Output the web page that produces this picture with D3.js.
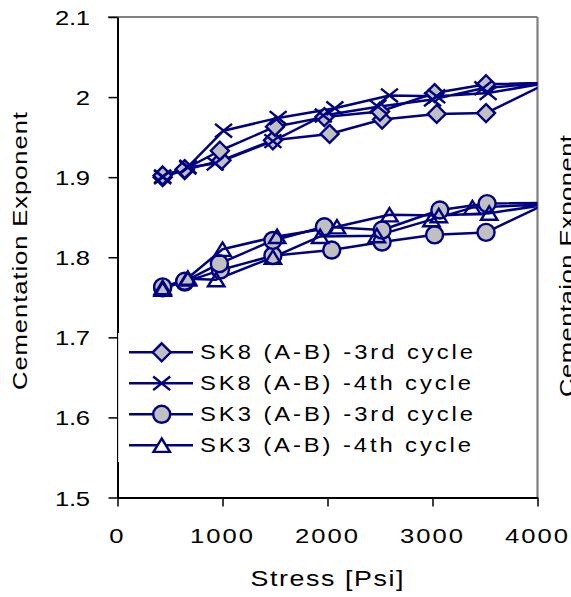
<!DOCTYPE html>
<html>
<head>
<meta charset="utf-8">
<script src="https://cdn.jsdelivr.net/npm/d3@7"></script>
<style>
  html, body { margin: 0; padding: 0; background: #fff; }
  svg { display: block; font-family: "Liberation Sans", Arial, sans-serif; }
</style>
</head>
<body>
<svg id="chart" width="571" height="597"></svg>
<script>
// ---------------- data ----------------
const seriesNames = ["SK8 (A-B) -3rd cycle", "SK8 (A-B) -4th cycle", "SK3 (A-B) -3rd cycle", "SK3 (A-B) -4th cycle"];
const seriesMarkers = ["diamond", "cross", "circle", "triangle"];

const sk8c3Stress = [430, 640, 990, 1480, 2020, 2520, 3040, 3510, 4100, 3510, 3020, 2500, 1970, 1500, 975, 640, 430];
const sk8c3M      = [1.900, 1.909, 1.921, 1.946, 1.954, 1.972, 1.979, 1.980, 2.018, 2.016, 2.005, 1.982, 1.975, 1.963, 1.933, 1.910, 1.902];

const sk8c4Stress = [430, 670, 930, 1480, 1960, 2480, 3000, 3480, 4100, 3530, 3040, 2590, 2070, 1530, 1010, 670, 430];
const sk8c4M      = [1.900, 1.912, 1.917, 1.945, 1.977, 1.988, 1.997, 2.011, 2.018, 2.005, 2.001, 2.002, 1.986, 1.974, 1.958, 1.913, 1.901];

const sk3c3Stress = [430, 640, 980, 1480, 2040, 2520, 3020, 3510, 4100, 3520, 3070, 2520, 1970, 1480, 970, 640, 430];
const sk3c3M      = [1.762, 1.769, 1.784, 1.802, 1.809, 1.819, 1.828, 1.831, 1.868, 1.867, 1.859, 1.834, 1.838, 1.821, 1.792, 1.770, 1.763];

const sk3c4Stress = [430, 670, 940, 1480, 1930, 2470, 2990, 3380, 4100, 3540, 3060, 2590, 2090, 1520, 1000, 670, 430];
const sk3c4M      = [1.760, 1.773, 1.772, 1.800, 1.826, 1.827, 1.847, 1.862, 1.866, 1.855, 1.852, 1.853, 1.838, 1.826, 1.810, 1.774, 1.762];

const xTicks = [0, 1000, 2000, 3000, 4000];
const xTickLabels = ["0", "1000", "2000", "3000", "4000"];
const yTicks = [1.5, 1.6, 1.7, 1.8, 1.9, 2.0, 2.1];
const yTickLabels = ["1.5", "1.6", "1.7", "1.8", "1.9", "2", "2.1"];

const xTitle = "Stress [Psi]";
const yTitle = "Cementation Exponent";
const y2Title = "Cementaion Exponent";

// ---------------- build ----------------
const series = [
  { name: seriesNames[0], marker: seriesMarkers[0], xs: sk8c3Stress, ys: sk8c3M },
  { name: seriesNames[1], marker: seriesMarkers[1], xs: sk8c4Stress, ys: sk8c4M },
  { name: seriesNames[2], marker: seriesMarkers[2], xs: sk3c3Stress, ys: sk3c3M },
  { name: seriesNames[3], marker: seriesMarkers[3], xs: sk3c4Stress, ys: sk3c4M }
];

const NAVY = "#000080";
const GREY = "#c0c0c0";
const SX = 1.22; // horizontal glyph stretch seen in the reference

const svg = d3.select("#chart");
svg.append("rect").attr("width", 571).attr("height", 597).attr("fill", "#fff");

const L = 117.5, R = 537.5, T = 17, B = 497.5;
const x = d3.scaleLinear().domain([0, 4000]).range([L, R]);
const y = d3.scaleLinear().domain([1.5, 2.1]).range([B, T]);

// place a text at (tx,ty) with rotation and horizontal stretch, fitted to a target length
function styleText(sel, tx, ty, rot, len) {
  sel.attr("x", 0).attr("y", 0).attr("dy", null)
    .attr("transform", `translate(${tx},${ty}) rotate(${rot}) scale(${SX},1)`);
  if (len) sel.attr("textLength", len / SX).attr("lengthAdjust", "spacing");
}

// frame: top & right grey
svg.append("line").attr("x1", 108).attr("x2", R).attr("y1", T).attr("y2", T)
  .attr("stroke", "#808080").attr("stroke-width", 2.2);
svg.append("line").attr("x1", R).attr("x2", R).attr("y1", T).attr("y2", B)
  .attr("stroke", "#808080").attr("stroke-width", 2.2);

// clip
svg.append("clipPath").attr("id", "plotclip").append("rect")
  .attr("x", L).attr("y", T - 12).attr("width", R - L).attr("height", B - T + 12);

const plot = svg.append("g").attr("clip-path", "url(#plotclip)");

function markerPath(type) {
  switch (type) {
    case "diamond": return "M0,-9L9,0L0,9L-9,0Z";
    case "circle": return "M8.5,0A8.5,8.5 0 1,1 -8.5,0A8.5,8.5 0 1,1 8.5,0Z";
    case "triangle": return "M0,-6.8L8.2,6.6L-8.2,6.6Z";
    case "cross": return "M-8.5,-6.8L8.5,6.8M-8.5,6.8L8.5,-6.8";
  }
}
function markerFill(type) {
  return (type === "diamond" || type === "circle") ? GREY : "none";
}

const line = d3.line().x(d => x(d[0])).y(d => y(d[1]));

series.forEach(s => {
  const pts = s.xs.map((v, i) => [v, s.ys[i]]);
  plot.append("path").attr("d", line(pts)).attr("fill", "none")
    .attr("stroke", NAVY).attr("stroke-width", 2.5).attr("stroke-linejoin", "round");
});
series.forEach(s => {
  const pts = s.xs.map((v, i) => [v, s.ys[i]]);
  plot.selectAll(null).data(pts).enter().append("path")
    .attr("transform", d => `translate(${x(d[0])},${y(d[1])})`)
    .attr("d", markerPath(s.marker))
    .attr("fill", markerFill(s.marker))
    .attr("stroke", NAVY).attr("stroke-width", 2.4);
});

// axes
const xAxis = d3.axisBottom(x).tickValues(xTicks).tickFormat((d, i) => xTickLabels[i]).tickSize(9).tickSizeOuter(0);
const gx = svg.append("g").attr("transform", `translate(0,${B})`).call(xAxis);
gx.select(".domain").attr("stroke", "#000").attr("stroke-width", 2);
gx.selectAll(".tick line").attr("stroke", "#000").attr("stroke-width", 1.5);
gx.selectAll(".tick text")
  .attr("fill", "#000").attr("font-size", 21)
  .attr("font-family", "Liberation Sans, Arial, sans-serif")
  .attr("text-anchor", "middle")
  .each(function (d, i) {
    styleText(d3.select(this), -1.5, 45.5, 0, xTickLabels[i].length > 1 ? 63 : null);
  });

const yAxis = d3.axisLeft(y).tickValues(yTicks).tickFormat((d, i) => yTickLabels[i]).tickSize(9).tickSizeOuter(0);
const gy = svg.append("g").attr("transform", `translate(${L},0)`).call(yAxis);
gy.select(".domain").attr("stroke", "#000").attr("stroke-width", 2);
gy.selectAll(".tick line").attr("stroke", "#000").attr("stroke-width", 1.5);
gy.selectAll(".tick text")
  .attr("fill", "#000").attr("font-size", 21)
  .attr("font-family", "Liberation Sans, Arial, sans-serif")
  .attr("text-anchor", "end")
  .each(function (d, i) {
    styleText(d3.select(this), -27.5, 7.5, 0, yTickLabels[i].length > 1 ? 35 : null);
  });

// legend (white box overlapping axis)
const lg = svg.append("g");
lg.append("rect").attr("x", 118).attr("y", 333).attr("width", 368).attr("height", 129)
  .attr("fill", "#fff").attr("fill-opacity", 0.85);
series.forEach((s, i) => {
  const cy = 352.3 + i * 31;
  lg.append("line").attr("x1", 129).attr("x2", 193).attr("y1", cy).attr("y2", cy)
    .attr("stroke", NAVY).attr("stroke-width", 2.5);
  lg.append("path").attr("transform", `translate(161.7,${cy})`)
    .attr("d", markerPath(s.marker)).attr("fill", markerFill(s.marker) === "none" ? "#fff" : GREY)
    .attr("stroke", NAVY).attr("stroke-width", 2.4);
  lg.append("text").attr("font-size", 19.5).attr("fill", "#000").text(s.name)
    .call(t => styleText(t, 200, cy + 7, 0, i % 2 === 0 ? 273 : 271));
});

// titles
svg.append("text").attr("text-anchor", "middle")
  .attr("font-size", 22).attr("fill", "#000").text(xTitle)
  .call(t => styleText(t, 327, 586, 0, 153));

svg.append("text").attr("text-anchor", "middle")
  .attr("font-size", 21).attr("fill", "#000").text(yTitle)
  .call(t => styleText(t, 27, 251, -90, 278));

svg.append("text").attr("text-anchor", "middle")
  .attr("font-size", 21).attr("fill", "#000").text(y2Title)
  .call(t => styleText(t, 574, 266, -90, 262));
</script>
</body>
</html>
